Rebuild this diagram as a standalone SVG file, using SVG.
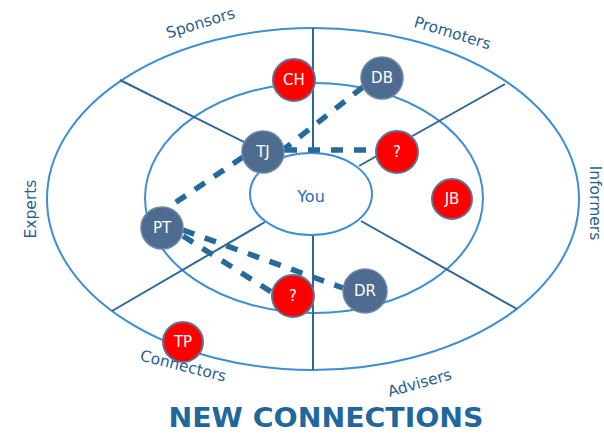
<svg xmlns="http://www.w3.org/2000/svg" width="604" height="435" viewBox="0 0 604 435">
<style>
.ring{fill:none;stroke:#3b8fd2;stroke-width:2}
.div{stroke:#2d6797;stroke-width:2}
.dash{fill:none;stroke:#266a9c;stroke-width:5.5;stroke-dasharray:12 11}
.grey{fill:#4e6c90;stroke:#6d87a6;stroke-width:1.5}
.red{fill:#fe0000;stroke:#5d7493;stroke-width:2}
.nl{font-family:"DejaVu Sans",sans-serif;font-size:15px;fill:#fff;text-anchor:middle;dominant-baseline:central}
.lab{font-family:"DejaVu Sans",sans-serif;font-size:15.5px;fill:#2a5f8d;text-anchor:middle}
</style>
<rect width="604" height="435" fill="#fff"/>
<g id="rings">
<ellipse class="ring" cx="313" cy="199" rx="266" ry="171"/>
<ellipse class="ring" cx="314" cy="198" rx="169" ry="115"/>
</g>
<g id="dividers">
<line class="div" x1="313" y1="28" x2="313" y2="153"/>
<line class="div" x1="313" y1="235" x2="313" y2="370"/>
<line class="div" x1="120" y1="80" x2="278" y2="159"/>
<line class="div" x1="505" y1="84" x2="359" y2="166"/>
<line class="div" x1="361" y1="221" x2="517" y2="309"/>
<line class="div" x1="112" y1="311" x2="265" y2="222"/>
</g>
<g id="you">
<ellipse cx="311" cy="194" rx="61" ry="41" fill="#fff" stroke="#3b8fd2" stroke-width="2"/>
<text x="311" y="196" font-family="DejaVu Sans,sans-serif" font-size="16" fill="#1f6db0" text-anchor="middle" dominant-baseline="central">You</text>
</g>
<g id="connectors">
<line class="dash" x1="363" y1="87" x2="283" y2="150"/>
<line class="dash" x1="285" y1="150" x2="376" y2="150"/>
<line class="dash" x1="243" y1="157" x2="166" y2="209"/>
<line class="dash" x1="183" y1="230" x2="343" y2="288"/>
<line class="dash" x1="183" y1="236" x2="273" y2="293"/>
</g>
<g id="node-CH"><circle class="red" cx="294" cy="80" r="21"/><text class="nl" x="294" y="80">CH</text></g>
<g id="node-DB"><circle class="grey" cx="382" cy="78" r="21"/><text class="nl" x="382" y="78">DB</text></g>
<g id="node-TJ"><circle class="grey" cx="263" cy="152" r="21"/><text class="nl" x="263" y="152">TJ</text></g>
<g id="node-Q1"><circle class="red" cx="397" cy="152" r="21"/><text class="nl" x="397" y="152">?</text></g>
<g id="node-JB"><circle class="red" cx="452" cy="199" r="20"/><text class="nl" x="452" y="199">JB</text></g>
<g id="node-PT"><circle class="grey" cx="162" cy="228" r="21"/><text class="nl" x="162" y="228">PT</text></g>
<g id="node-Q2"><circle class="red" cx="293" cy="296" r="21"/><text class="nl" x="293" y="296">?</text></g>
<g id="node-DR"><circle class="grey" cx="365" cy="291" r="22"/><text class="nl" x="365" y="291">DR</text></g>
<g id="node-TP"><circle class="red" cx="183" cy="342" r="20"/><text class="nl" x="183" y="342">TP</text></g>
<g id="labels">
<text class="lab" transform="translate(202,28) rotate(-17)">Sponsors</text>
<text class="lab" transform="translate(451,38) rotate(17)">Promoters</text>
<text class="lab" transform="translate(590,203) rotate(90)">Informers</text>
<text class="lab" transform="translate(36,209) rotate(-90)">Experts</text>
<text class="lab" transform="translate(182,371) rotate(14)">Connectors</text>
<text class="lab" transform="translate(421,388) rotate(-16)">Advisers</text>
<text x="326" y="427" font-family="DejaVu Sans,sans-serif" font-size="27" font-weight="bold" fill="#21679c" text-anchor="middle" textLength="315" lengthAdjust="spacingAndGlyphs">NEW CONNECTIONS</text>
</g>
</svg>
